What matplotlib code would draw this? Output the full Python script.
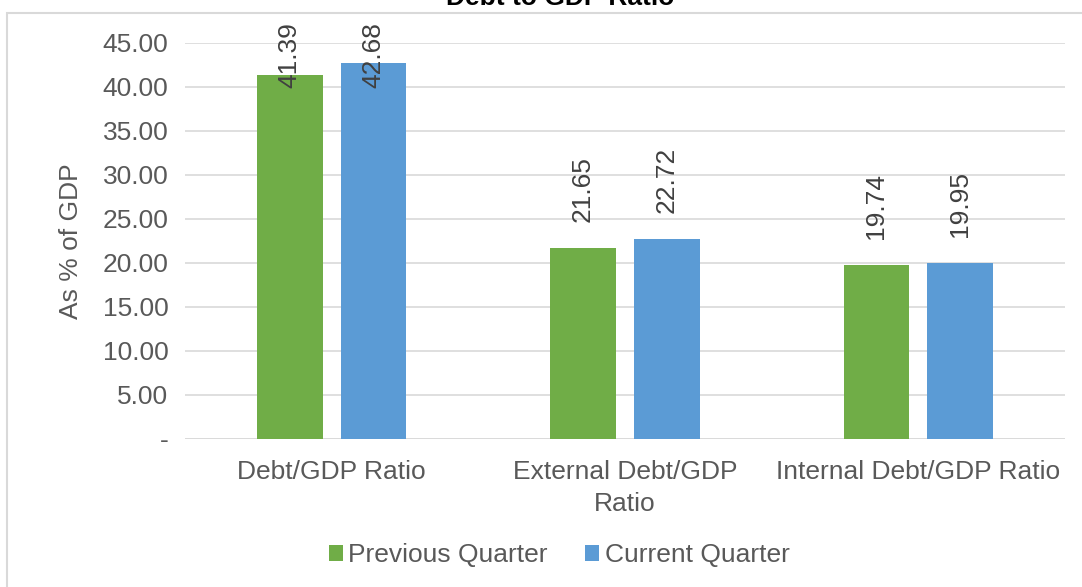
import matplotlib.pyplot as plt
from matplotlib.patches import Rectangle
import numpy as np

plt.rcParams['font.family'] = ['Liberation Sans', 'DejaVu Sans']

categories = ['Debt/GDP Ratio', 'External Debt/GDP\nRatio', 'Internal Debt/GDP Ratio']
previous = [41.39, 21.65, 19.74]
current = [42.68, 22.72, 19.95]
yticks = np.arange(0, 50, 5)
ytick_labels = ['-'] + [f'{t:.2f}' for t in yticks[1:]]

green = '#70AD47'
blue = '#5B9BD5'
grey = '#595959'
fs = 19

fig = plt.figure(figsize=(10.82, 5.87), dpi=100)
ax = fig.add_axes([185 / 1082, 1 - 439 / 587, 880 / 1082, 396 / 587])

# outer chart border (partly cropped like the source image)
fig.patches.append(Rectangle((7 / 1082, -0.1), 1.2, 1.1 - 13 / 587,
                             transform=fig.transFigure, fill=False,
                             edgecolor='#d9d9d9', linewidth=1.5))

x = np.arange(len(categories))
w = 0.224
off = 0.143
b1 = ax.bar(x - off, previous, w, color=green, label='Previous Quarter', zorder=3)
b2 = ax.bar(x + off, current, w, color=blue, label='Current Quarter', zorder=3)

for bars, vals in ((b1, previous), (b2, current)):
    for rect, v in zip(bars, vals):
        ypos = min(v + 3.0, 39.9)
        ax.text(rect.get_x() + rect.get_width() / 2, ypos, f'{v:.2f}',
                rotation=90, ha='center', va='bottom', fontsize=fs,
                color='#404040', zorder=4, clip_on=False)

ax.set_xlim(-0.5, 2.5)
ax.set_ylim(0, 45)
ax.set_yticks(yticks)
ax.set_yticklabels(ytick_labels)
ax.set_xticks(x)
ax.set_xticklabels(categories, linespacing=1.45)
ax.tick_params(axis='both', length=0, labelsize=fs, labelcolor=grey)
ax.tick_params(axis='y', pad=12)
ax.tick_params(axis='x', pad=15)
ax.grid(axis='y', color='#d9d9d9', linewidth=1.2, zorder=0)
for s in ax.spines.values():
    s.set_visible(False)
ax.axhline(0, color='#d9d9d9', linewidth=1.2, zorder=1)

ax.set_ylabel('As % of GDP', fontsize=fs, color=grey, labelpad=14)

fig.text(560 / 1082, 1 - 5 / 587, 'Debt to GDP Ratio', ha='center',
         va='baseline', fontsize=19, fontweight='bold', color='black')

fig.legend(handles=[b1, b2], loc='center', bbox_to_anchor=(559 / 1082, 1 - 555 / 587),
           ncol=2, frameon=False, fontsize=fs, handlelength=0.55, handleheight=0.55,
           handletextpad=0.2, columnspacing=1.4, labelcolor=grey)

fig.savefig('out.png', dpi=100)
